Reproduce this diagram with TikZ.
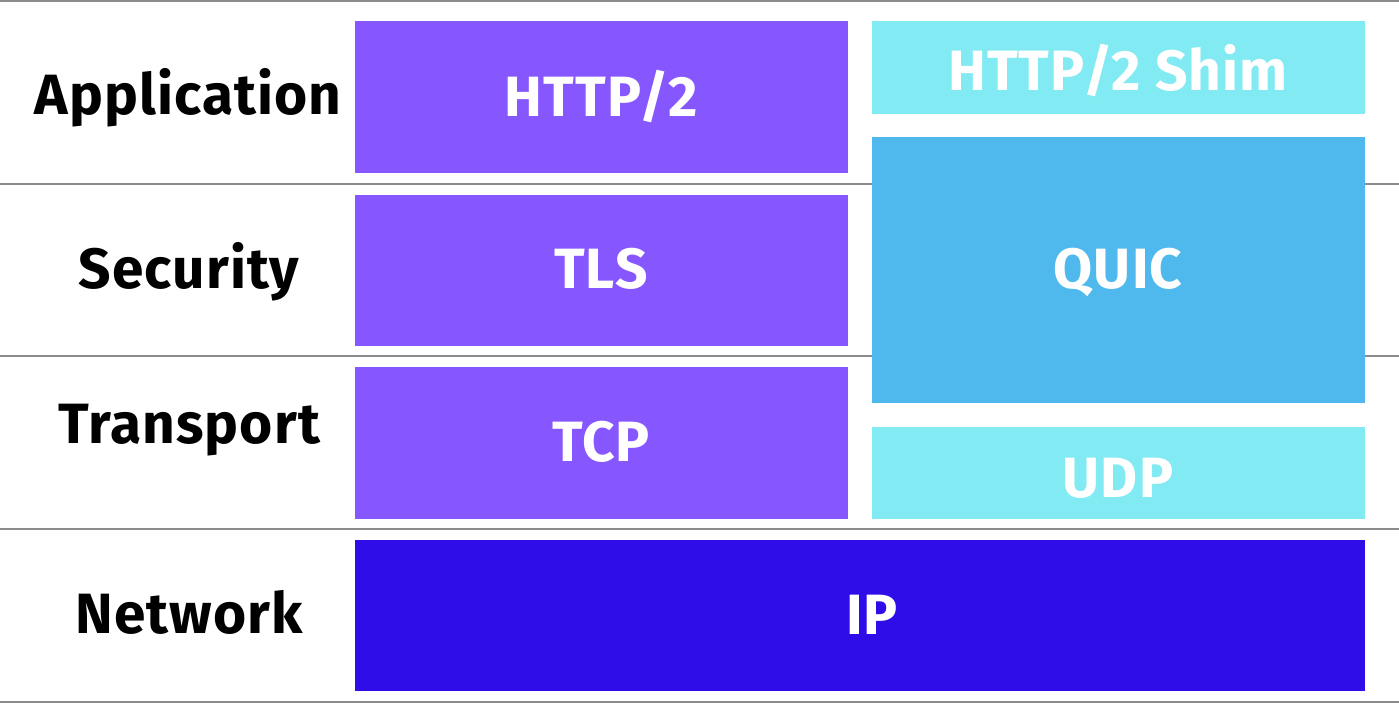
\documentclass[tikz,border=0pt]{standalone}
\usepackage{fontspec}
\setmainfont{Fira Sans}[LetterSpace=2.0]
\definecolor{purp}{HTML}{8656FF}
\definecolor{cyanl}{HTML}{82EAF2}
\definecolor{quicb}{HTML}{4FB8EC}
\definecolor{ipb}{HTML}{2E0DE8}
\definecolor{rule}{HTML}{8C8C8C}
\tikzset{
  layerbox/.style={fill=#1, draw=none},
  boxtext/.style={text=white, font=\fontsize{57}{60}\selectfont\bfseries, anchor=base, inner sep=0pt},
  rowtext/.style={text=black, font=\fontsize{57}{60}\selectfont\bfseries, anchor=base, inner sep=0pt},
  sep/.style={draw=rule, line width=2bp}
}
\begin{document}
\begin{tikzpicture}[x=1bp,y=-1bp]
\useasboundingbox (0,0) rectangle (1399,703);
\fill[white] (0,0) rectangle (1399,703);
% separator lines
\coordinate (l0a) at (0,1.5);   \coordinate (l0b) at (1399,1.5);
\coordinate (l1a) at (0,183.5); \coordinate (l1b) at (1399,183.5);
\coordinate (l2a) at (0,356);   \coordinate (l2b) at (1399,356);
\coordinate (l3a) at (0,529);   \coordinate (l3b) at (1399,529);
\coordinate (l4a) at (0,701.5); \coordinate (l4b) at (1399,701.5);
\draw[sep] (l0a) -- (l0b);
\draw[sep] (l1a) -- (l1b);
\draw[sep] (l2a) -- (l2b);
\draw[sep] (l3a) -- (l3b);
\draw[sep] (l4a) -- (l4b);
% boxes
\fill[layerbox=purp]  (355,21.5) rectangle (848,173);
\fill[layerbox=purp]  (355,194.5) rectangle (848,346);
\fill[layerbox=purp]  (355,367) rectangle (848,519);
\fill[layerbox=ipb]   (355,540) rectangle (1365,691);
\fill[layerbox=cyanl] (872,21.5) rectangle (1365,114);
\fill[layerbox=quicb] (872,137) rectangle (1365,403);
\fill[layerbox=cyanl] (872,427) rectangle (1365,519);
% box labels
\node[boxtext] (http2) at (601,117) {HTTP/2};
\node[boxtext] (tls)   at (601,288) {TLS};
\node[boxtext] (tcp)   at (601,461) {TCP};
\node[boxtext] (shim)  at (1118,91) {HTTP/2 Shim};
\node[boxtext] (quic)  at (1118,288) {QUIC};
\node[boxtext] (udp)   at (1118,497) {UDP};
\node[boxtext] (ip)    at (872,634) {IP};
% row labels
\node[rowtext] (app) at (188,115) {Application};
\node[rowtext] (sec) at (189,288) {Security};
\node[rowtext] (tra) at (189,443) {Transport};
\node[rowtext] (net) at (189,633) {Network};
\end{tikzpicture}
\end{document}
